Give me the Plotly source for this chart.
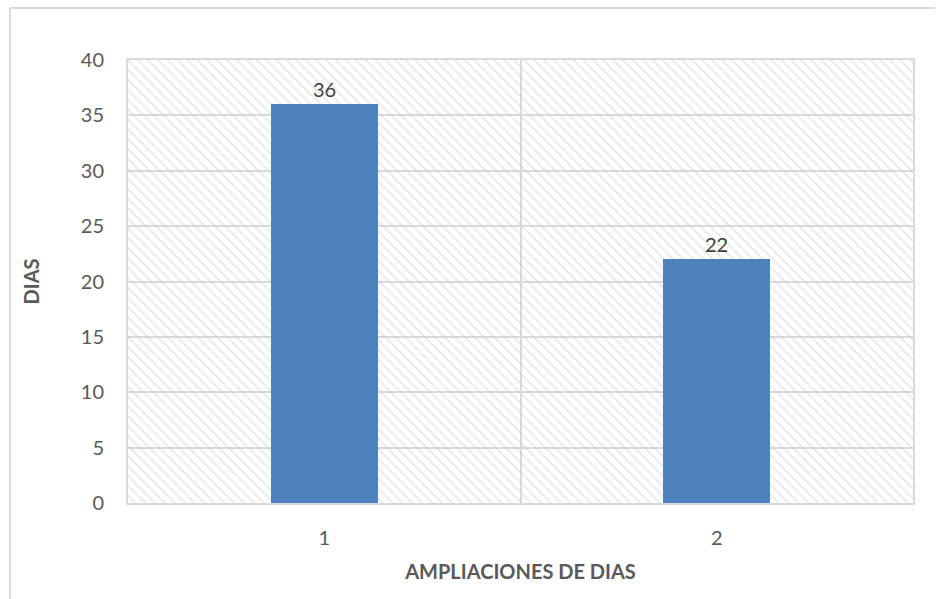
import plotly.graph_objects as go

categories = [1, 2]
tick_labels = ["1", "2"]
values = [36, 22]
y_ticks = [0, 5, 10, 15, 20, 25, 30, 35, 40]
y_max = 40
divider = [1.5]

FONT = "Lato, Carlito, Calibri, sans-serif"
GRID = "#d9d9d9"
TXT = "#595959"

fig = go.Figure()

# hatched plot-area background
fig.add_trace(go.Bar(
    x=[sum(categories) / len(categories)], y=[y_max], width=[len(categories)],
    marker=dict(color="rgba(0,0,0,0)", line=dict(width=0),
                pattern=dict(shape="\\", fgcolor="#cccccc", bgcolor="rgba(0,0,0,0)",
                             size=7, solidity=0.22, fillmode="overlay")),
    hoverinfo="skip", showlegend=False,
))

fig.add_trace(go.Bar(
    x=categories, y=values, width=0.273,
    marker=dict(color="#4f81bd", line=dict(width=0)),
    text=[str(v) for v in values], textposition="outside",
    textfont=dict(family=FONT, size=20, color="#404040"),
    cliponaxis=False, showlegend=False,
))

fig.update_layout(
    width=945, height=599,
    margin=dict(l=128, r=32, t=60, b=96),
    paper_bgcolor="white", plot_bgcolor="white",
    barmode="overlay", bargap=0,
    font=dict(family=FONT, size=20, color=TXT),
    xaxis=dict(
        range=[0.5, 2.5], tickvals=categories, ticktext=tick_labels,
        showgrid=False, zeroline=False, ticks="", ticklabelstandoff=16,
        showline=True, linecolor=GRID, linewidth=2, mirror=True,
        minor=dict(tickvals=divider, showgrid=True, gridcolor=GRID, gridwidth=2, ticks=""),
        tickfont=dict(family=FONT, size=20, color=TXT),
        title=dict(text="<b>AMPLIACIONES DE DIAS</b>", standoff=17,
                   font=dict(family=FONT, size=20, color=TXT)),
    ),
    yaxis=dict(
        range=[0, y_max], tickvals=y_ticks,
        showgrid=True, gridcolor=GRID, gridwidth=2, zeroline=False,
        showline=True, linecolor=GRID, linewidth=2, mirror=True,
        ticks="", ticklabelstandoff=18,
        tickfont=dict(family=FONT, size=20, color=TXT),
        title=dict(text="<b>DIAS</b>", standoff=36,
                   font=dict(family=FONT, size=20, color=TXT)),
    ),
    shapes=[
        dict(type="line", xref="paper", yref="paper", x0=-0.1503, x1=1.028, y0=1.1174, y1=1.1174,
             line=dict(color=GRID, width=2)),
        dict(type="line", xref="paper", yref="paper", x0=-0.1503, x1=-0.1503, y0=1.1174, y1=-0.25,
             line=dict(color=GRID, width=2)),
    ],
)

fig.write_html("out.html")
